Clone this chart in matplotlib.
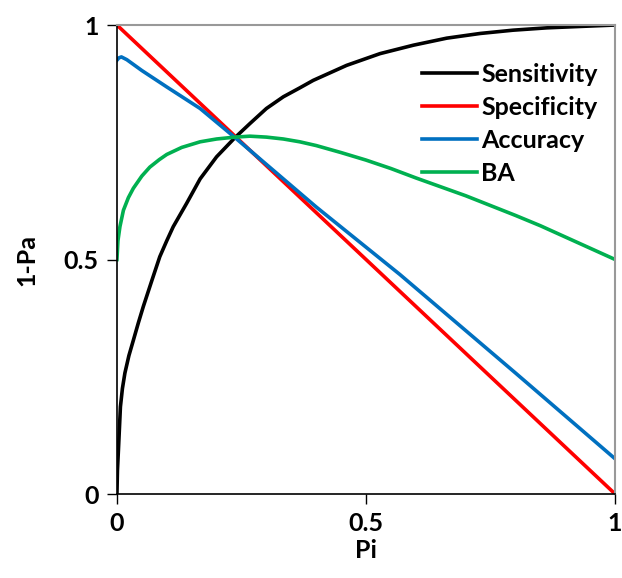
import matplotlib.pyplot as plt

# values
pi_sens = [0.0, 0.001, 0.003, 0.007, 0.011, 0.016, 0.024, 0.033, 0.043, 0.053,
           0.07, 0.086, 0.1, 0.113, 0.14, 0.167, 0.2, 0.237, 0.267, 0.30,
           0.334, 0.367, 0.394, 0.461, 0.528, 0.595, 0.662, 0.729, 0.795,
           0.863, 0.93, 1.0]
sensitivity = [0.0, 0.05, 0.094, 0.186, 0.225, 0.258, 0.295, 0.328, 0.365, 0.40,
               0.455, 0.506, 0.54, 0.57, 0.62, 0.672, 0.719, 0.76, 0.79, 0.822,
               0.847, 0.866, 0.882, 0.914, 0.939, 0.957, 0.972, 0.982, 0.989,
               0.994, 0.997, 1.0]

pi_spec = [0.0, 1.0]
specificity = [1.0, 0.0]

pi_acc = [0.0, 0.004, 0.009, 0.02, 0.05, 0.1, 0.167, 0.237, 0.4, 0.568, 0.8, 1.0]
accuracy = [0.925, 0.93, 0.932, 0.926, 0.903, 0.868, 0.822, 0.76, 0.612, 0.468,
            0.258, 0.075]

pi_ba = [0.0, 0.002, 0.006, 0.013, 0.023, 0.033, 0.05, 0.066, 0.085, 0.1,
         0.13, 0.167, 0.2, 0.237, 0.267, 0.3, 0.334, 0.367, 0.4, 0.45,
         0.5, 0.55, 0.6, 0.65, 0.7, 0.75, 0.8, 0.85, 0.9, 0.95, 1.0]
ba = [0.5, 0.54, 0.57, 0.605, 0.632, 0.652, 0.678, 0.697, 0.713, 0.724,
      0.739, 0.751, 0.757, 0.761, 0.763, 0.761, 0.757, 0.751, 0.743, 0.728,
      0.712, 0.694, 0.674, 0.655, 0.636, 0.615, 0.594, 0.572, 0.548, 0.524, 0.5]

ticks = [0, 0.5, 1]
tick_labels = ["0", "0.5", "1"]

plt.rcParams["font.family"] = ["Lato", "DejaVu Sans"]
plt.rcParams["font.weight"] = "bold"

fig = plt.figure(figsize=(6.22, 5.78), dpi=100)
ax = fig.add_axes([0.188, 0.1453, 0.801, 0.8114])

lw = 2.6
ax.plot(pi_sens, sensitivity, color="black", lw=lw, label="Sensitivity")
ax.plot(pi_spec, specificity, color="#FF0000", lw=lw, label="Specificity")
ax.plot(pi_acc, accuracy, color="#0070C0", lw=lw, label="Accuracy")
ax.plot(pi_ba, ba, color="#00B050", lw=lw, label="BA")

ax.set_xlim(0, 1)
ax.set_ylim(0, 1)
ax.set_xticks(ticks, tick_labels)
ax.set_yticks(ticks, tick_labels)
ax.tick_params(labelsize=18, length=7, width=1, direction="out", pad=6)

for side in ["top", "right"]:
    ax.spines[side].set_color("#999999")
    ax.spines[side].set_linewidth(1.5)
for side in ["left", "bottom"]:
    ax.spines[side].set_color("black")
    ax.spines[side].set_linewidth(1.2)

ax.set_xlabel("Pi", fontsize=18, fontweight="bold", labelpad=3)
ax.set_ylabel("1-Pa", fontsize=18, fontweight="bold", labelpad=18)

ax.legend(loc="upper right", bbox_to_anchor=(1.01, 0.968), frameon=False,
          fontsize=18, handlelength=2.2, handletextpad=0.15, labelspacing=0.4)

fig.savefig("out.png", dpi=100)
